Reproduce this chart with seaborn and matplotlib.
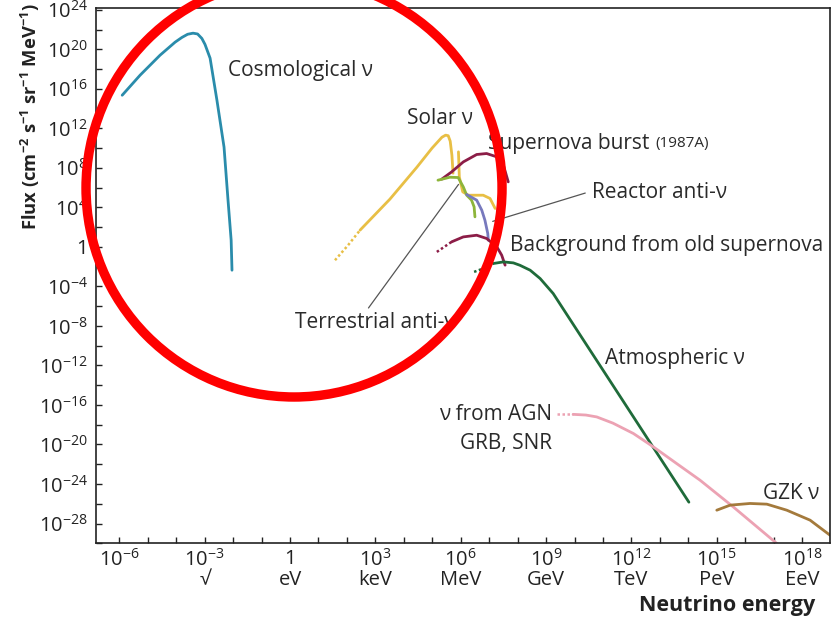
import numpy as np
import pandas as pd
import matplotlib
matplotlib.use("Agg")
import matplotlib.pyplot as plt
import seaborn as sns
from matplotlib.patches import Ellipse

# values are log10(energy / eV) and log10(flux / cm^-2 s^-1 sr^-1 MeV^-1)
cosmo_logE = [-5.90, -5.27, -4.57, -4.04, -3.80, -3.60, -3.41, -3.25, -3.10, -2.99, -2.81, -2.57, -2.32, -2.18, -2.07, -2.04]
cosmo_logF = [15.35, 17.38, 19.40, 20.72, 21.20, 21.52, 21.63, 21.55, 21.10, 20.50, 19.10, 14.85, 10.10, 4.73, 0.68, -2.36]

solar_dot_logE = [1.58, 2.04, 2.46]
solar_dot_logF = [-1.35, 0.17, 1.69]
solar_logE = [2.46, 3.51, 4.46, 4.99, 5.34, 5.47, 5.56, 5.63, 5.69, 5.73]
solar_logF = [1.69, 4.83, 8.07, 9.99, 11.10, 11.31, 11.25, 10.70, 9.28, 7.46]
solar_b8_logE = [5.92, 5.95, 6.07, 6.27, 6.79, 7.03, 7.21]
solar_b8_logF = [9.62, 7.09, 5.57, 5.23, 5.23, 4.90, 3.89]

terr_logE = [5.20, 5.62, 5.91, 6.09, 6.21, 6.38, 6.47, 6.50]
terr_logF = [6.75, 7.05, 7.02, 6.07, 5.23, 4.73, 4.05, 3.04]

reactor_logE = [6.21, 6.56, 6.74, 6.85, 6.95, 6.97]
reactor_logF = [5.30, 4.73, 3.71, 2.70, 1.36, 0.68]

sn_logE = [5.33, 5.68, 6.09, 6.56, 6.91, 7.27, 7.50, 7.67]
sn_logF = [6.85, 7.59, 8.60, 9.35, 9.45, 9.11, 8.27, 6.58]

dsnb_dot_logE = [5.16, 5.68]
dsnb_dot_logF = [-0.51, 0.51]
dsnb_logE = [5.68, 6.09, 6.56, 6.91, 7.27, 7.44, 7.56]
dsnb_logF = [0.51, 1.01, 1.18, 0.85, 0.00, -0.84, -1.85]

atm_dot_logE = [6.47, 6.79, 7.15]
atm_dot_logF = [-2.53, -2.19, -1.68]
atm_logE = [7.15, 7.50, 7.85, 8.08, 8.44, 8.79, 9.25, 10.20, 11.00, 14.02]
atm_logF = [-1.68, -1.52, -1.62, -1.86, -2.36, -3.20, -4.72, -8.93, -12.47, -25.84]

agn_dot_logE = [9.38, 9.95]
agn_dot_logF = [-16.95, -16.95]
agn_logE = [9.95, 10.40, 10.78, 11.35, 12.07, 12.77, 13.59, 14.41, 15.58, 17.11]
agn_logF = [-16.95, -17.02, -17.21, -17.84, -18.89, -20.24, -21.93, -23.61, -26.32, -30.02]

gzk_logE = [15.00, 15.47, 16.17, 16.76, 17.46, 18.28, 18.98]
gzk_logF = [-26.65, -26.14, -25.97, -26.04, -26.65, -27.66, -29.18]

xtick_exp = [-6, -3, 0, 3, 6, 9, 12, 15, 18]
xtick_units = ["", "√", "eV", "keV", "MeV", "GeV", "TeV", "PeV", "EeV"]
ytick_exp = [24, 20, 16, 12, 8, 4, 0, -4, -8, -12, -16, -20, -24, -28]

sns.set_style("ticks")
plt.rcParams["font.family"] = ["Open Sans", "DejaVu Sans"]
plt.rcParams["mathtext.fontset"] = "custom"
plt.rcParams["mathtext.rm"] = "Open Sans"
plt.rcParams["mathtext.it"] = "Open Sans:italic"
plt.rcParams["mathtext.bf"] = "Open Sans:bold"

fig = plt.figure(figsize=(8.32, 6.18), dpi=100)
ax = fig.add_axes([0.1154, 0.1209, 0.8822, 0.8657])

def curve(le, lf, color, lw=2.0, ls="-"):
    d = pd.DataFrame({"E": 10.0 ** np.array(le), "F": 10.0 ** np.array(lf)})
    sns.lineplot(data=d, x="E", y="F", ax=ax, color=color, lw=lw, ls=ls,
                 sort=False, estimator=None, solid_joinstyle="round",
                 solid_capstyle="round")

dots = (0, (1, 1))
curve(cosmo_logE, cosmo_logF, "#2a8cab")
curve(solar_dot_logE, solar_dot_logF, "#e8bf45", 1.8, dots)
curve(solar_logE, solar_logF, "#e8bf45")
curve(solar_b8_logE, solar_b8_logF, "#e8bf45")
curve(sn_logE, sn_logF, "#8c1d47")
curve(terr_logE, terr_logF, "#8db53a")
curve(reactor_logE, reactor_logF, "#7779bd")
curve(dsnb_dot_logE, dsnb_dot_logF, "#8c1d47", 1.8, dots)
curve(dsnb_logE, dsnb_logF, "#8c1d47")
curve(atm_dot_logE, atm_dot_logF, "#1f6b3a", 1.8, dots)
curve(atm_logE, atm_logF, "#1f6b3a")
curve(agn_dot_logE, agn_dot_logF, "#eca2b3", 1.8, dots)
curve(agn_logE, agn_logF, "#eca2b3")
curve(gzk_logE, gzk_logF, "#a47a3c")

ax.set_xscale("log")
ax.set_yscale("log")
ax.set_xlim(10 ** -6.82, 10 ** 18.98)
ax.set_ylim(1e-30, 10 ** 24.15)

ax.set_xticks([10.0 ** e for e in xtick_exp])
ax.set_xticklabels(["1" if e == 0 else f"$10^{{{e}}}$" for e in xtick_exp])
ax.set_xticks([10.0 ** e for e in range(-6, 19)], minor=True)
ax.set_yticks([10.0 ** e for e in ytick_exp])
ax.set_yticklabels(["1" if e == 0 else f"$10^{{{e}}}$" for e in ytick_exp])
ax.set_yticks([10.0 ** e for e in range(-30, 24, 2)], minor=True)
ax.xaxis.set_minor_formatter(matplotlib.ticker.NullFormatter())
ax.yaxis.set_minor_formatter(matplotlib.ticker.NullFormatter())
ax.tick_params(which="both", direction="in", length=4.5, width=1.0, color="#222222")
ax.tick_params(axis="x", labelsize=14.5, pad=4, colors="#222222")
ax.tick_params(axis="y", labelsize=14.5, pad=6, colors="#222222")
for s in ax.spines.values():
    s.set_linewidth(1.2)
    s.set_color("#222222")
ax.set_xlabel("")
ax.set_ylabel("")

xt = ax.get_xaxis_transform()
for e, u in zip(xtick_exp, xtick_units):
    if u:
        ax.text(10.0 ** e, -0.069, u, transform=xt, ha="center", va="center",
                fontsize=14.5, color="#222222")

fig.text(0.98, 0.021, "Neutrino energy", ha="right", va="center",
         fontsize=15.5, fontweight="bold", color="#222222")
fig.text(0.036, 0.812,
         r"Flux (cm$^{\mathbf{-2}}$ s$^{\mathbf{-1}}$ sr$^{\mathbf{-1}}$ MeV$^{\mathbf{-1}}$)",
         rotation=90, ha="center", va="center", fontsize=13.2, fontweight="bold",
         color="#222222")

lab = dict(fontsize=15, color="#2a2a2a", va="center")
ax.text(10 ** -2.18, 10 ** 17.88, "Cosmological ν", **lab)
ax.text(10 ** 4.11, 10 ** 13.03, "Solar ν", **lab)
ax.text(10 ** 6.96, 10 ** 10.5, "Supernova burst", **lab)
ax.text(10 ** 12.83, 10 ** 10.5, "(1987A)", fontsize=11, color="#2a2a2a", va="center")
ax.text(10 ** 10.62, 10 ** 5.54, "Reactor anti-ν", **lab)
ax.text(10 ** 7.73, 10 ** 0.17, "Background from old supernova", **lab)
ax.text(10 ** 0.18, 10 ** -7.62, "Terrestrial anti-ν", **lab)
ax.text(10 ** 11.07, 10 ** -11.27, "Atmospheric ν", **lab)
ax.text(10 ** 9.21, 10 ** -16.95, "ν from AGN", ha="right", **lab)
ax.text(10 ** 9.21, 10 ** -19.87, "GRB, SNR", ha="right", **lab)
ax.text(10 ** 16.63, 10 ** -24.93, "GZK ν", **lab)

lead = dict(arrowstyle="-", color="#555555", lw=0.9)
ax.annotate("", xy=(10 ** 7.03, 10 ** 2.5), xytext=(10 ** 10.47, 10 ** 5.53), arrowprops=lead)
ax.annotate("", xy=(10 ** 5.98, 10 ** 6.55), xytext=(10 ** 2.70, 10 ** -6.41), arrowprops=lead)

ring = Ellipse((0.3534, 0.6958), 0.5, 0.6764, transform=fig.transFigure,
               fill=False, edgecolor="#ff0000", lw=6.8, zorder=10)
fig.add_artist(ring)

fig.savefig("out.png", dpi=100)
